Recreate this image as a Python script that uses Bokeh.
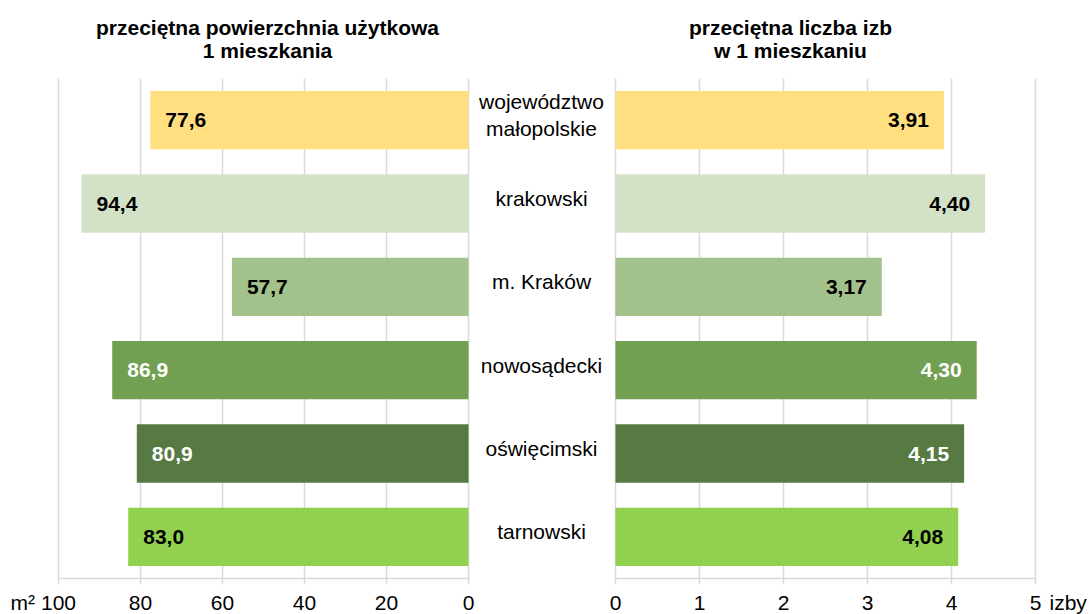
from bokeh.plotting import figure
from bokeh.models import Range1d, FixedTicker, ColumnDataSource, LinearAxis
from bokeh.embed import file_html
from bokeh.resources import INLINE
from bokeh.core.properties import value

categories = ["województwo\nmałopolskie", "krakowski", "m. Kraków", "nowosądecki", "oświęcimski", "tarnowski"]
area = [77.6, 94.4, 57.7, 86.9, 80.9, 83.0]
rooms = [3.91, 4.40, 3.17, 4.30, 4.15, 4.08]
bar_colors = ["#FFDF80", "#D3E2C6", "#A3C28B", "#72A052", "#567A41", "#92D050"]
label_colors = ["#000000", "#000000", "#000000", "#FFFFFF", "#FFFFFF", "#000000"]
left_ticks = [0, 20, 40, 60, 80, 100]
right_ticks = [0, 1, 2, 3, 4, 5]
title_left = ["przeciętna powierzchnia użytkowa", "1 mieszkania"]
title_right = ["przeciętna liczba izb", "w 1 mieszkaniu"]
unit_left = "m²"
unit_right = "izby"

FONT = "Liberation Sans"
W, H = 1089, 614
N = len(categories)

# Screen geometry of the two panels (pixels)
L0, L100 = 468.0, 58.0      # left panel: value 0 and 100
R0, R5 = 615.0, 1035.0      # right panel: value 0 and 5
TOPPX, BOTPX = 78.0, 578.0  # top / bottom of the row area

lpx = (L0 - L100) / 100.0
rpx = (R5 - R0) / 5.0
ypx = (BOTPX - TOPPX) / N

xr_left = Range1d(100 + L100 / lpx, 0 - (W - L0) / lpx)
xr_right = Range1d(-R0 / rpx, (W - R0) / rpx)
yr = Range1d(-(H - BOTPX) / ypx, N + TOPPX / ypx)

ypos = [N - 0.5 - i for i in range(N)]
src = ColumnDataSource(dict(
    cat=categories, y=ypos, area=area, rooms=rooms, color=bar_colors, lcolor=label_colors,
    area_lbl=[f"{v:.1f}".replace(".", ",") for v in area],
    rooms_lbl=[f"{v:.2f}".replace(".", ",") for v in rooms],
))

p = figure(width=W, height=H, x_range=xr_left, y_range=yr, output_backend="svg",
           toolbar_location=None, x_axis_location=None, y_axis_location=None,
           min_border=0)
p.extra_x_ranges = {"right": xr_right}
p.outline_line_color = None
p.grid.grid_line_color = None
p.background_fill_color = "white"
p.border_fill_color = "white"

GRID = "#D9D9D9"

# grid lines (from the tick lists)
p.segment(x0=left_ticks, x1=left_ticks, y0=0, y1=N, line_color=GRID, line_width=1.5)
p.segment(x0=right_ticks, x1=right_ticks, y0=0, y1=N, line_color=GRID, line_width=1.5,
          x_range_name="right")


def make_axis(ticks, rng_name, bounds):
    ax = LinearAxis(x_range_name=rng_name, fixed_location=0, bounds=bounds,
                    ticker=FixedTicker(ticks=ticks))
    ax.axis_line_color = GRID
    ax.axis_line_width = 1.5
    ax.major_tick_line_color = GRID
    ax.major_tick_line_width = 1.5
    ax.major_tick_out = 6
    ax.major_tick_in = 0
    ax.minor_tick_line_color = None
    ax.major_label_text_font = FONT
    ax.major_label_text_font_size = "21px"
    ax.major_label_text_color = "#000000"
    ax.major_label_standoff = 11
    p.add_layout(ax, "below")


make_axis(left_ticks, "default", (min(left_ticks), max(left_ticks)))
make_axis(right_ticks, "right", (min(right_ticks), max(right_ticks)))

# bars
p.hbar(y="y", right="area", left=0, height=0.7, color="color", line_color=None, source=src)
p.hbar(y="y", right="rooms", left=0, height=0.7, color="color", line_color=None, source=src,
       x_range_name="right")

# value labels
p.text(x="area", y="y", text="area_lbl", text_color="lcolor", source=src,
       text_font=value(FONT), text_font_size="21px", text_font_style="bold",
       text_align="left", text_baseline="middle", x_offset=15)
p.text(x="rooms", y="y", text="rooms_lbl", text_color="lcolor", source=src,
       text_font=value(FONT), text_font_size="21px", text_font_style="bold",
       text_align="right", text_baseline="middle", x_offset=-15, x_range_name="right")

# category names in the middle column
mid_x = 100 - (541 - L100) / lpx
p.text(x=mid_x, y="y", text="cat", source=src, text_font=value(FONT),
       text_font_size="21px", text_color="#000000", text_align="center",
       text_baseline="middle", y_offset=-5, text_line_height=1.15)

# titles
ty = [N + (TOPPX - 27) / ypx, N + (TOPPX - 50) / ypx]
p.text(x=[100 - (267 - L100) / lpx] * 2, y=ty, text=title_left, text_font=value(FONT),
       text_font_size="21px", text_font_style="bold", text_color="#000000",
       text_align="center", text_baseline="middle")
p.text(x=[(790 - R0) / rpx] * 2, y=ty, text=title_right, text_font=value(FONT),
       text_font_size="21px", text_font_style="bold", text_color="#000000",
       text_align="center", text_baseline="middle", x_range_name="right")

# unit labels next to the axes
uy = -(602 - BOTPX) / ypx
p.text(x=[100 + (L100 - 10) / lpx], y=[uy], text=[unit_left], text_font=value(FONT),
       text_font_size="21px", text_color="#000000", text_align="left",
       text_baseline="middle")
p.text(x=[(1049 - R0) / rpx], y=[uy], text=[unit_right], text_font=value(FONT),
       text_font_size="21px", text_color="#000000", text_align="left",
       text_baseline="middle", x_range_name="right")

open("out.html", "w").write(file_html(p, INLINE))
